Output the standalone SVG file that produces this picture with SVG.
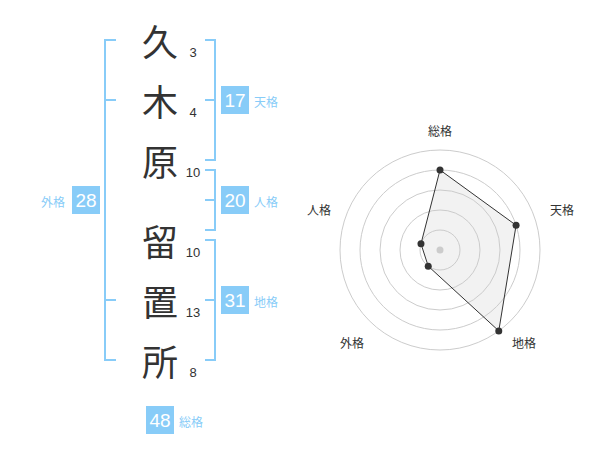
<svg xmlns="http://www.w3.org/2000/svg" width="600" height="470" viewBox="0 0 600 470">
<style>
.ch{font-family:"Noto Sans CJK JP","Noto Sans CJK SC",sans-serif;font-size:36px;fill:#333;text-anchor:middle;dominant-baseline:central}
.num{font-family:"Liberation Sans",Arial,sans-serif;font-size:13px;fill:#333;text-anchor:middle}
.br{fill:none;stroke:#88ccf8;stroke-width:2}
.box{fill:#88ccf8}
.bt{font-family:"Liberation Sans",Arial,sans-serif;font-size:19px;fill:#fff;text-anchor:middle;dominant-baseline:central}
.lb{font-family:"Noto Sans CJK JP","Noto Sans CJK SC",sans-serif;font-size:12px;fill:#88ccf8;dominant-baseline:central}
.rl{font-family:"Noto Sans CJK JP","Noto Sans CJK SC",sans-serif;font-size:12px;fill:#333;text-anchor:middle;dominant-baseline:central}
.ring{fill:none;stroke:#ccc;stroke-width:1}
</style>
<rect width="600" height="470" fill="#fff"/>
<g id="chars">
<text class="ch" x="160" y="40">久</text>
<text class="ch" x="160" y="100">木</text>
<text class="ch" x="160" y="160">原</text>
<text class="ch" x="160" y="240">留</text>
<text class="ch" x="160" y="300">置</text>
<text class="ch" x="160" y="360">所</text>
</g>
<g id="strokes">
<text class="num" x="193" y="57">3</text>
<text class="num" x="193" y="117">4</text>
<text class="num" x="193" y="177">10</text>
<text class="num" x="193" y="257">10</text>
<text class="num" x="193" y="317">13</text>
<text class="num" x="193" y="377">8</text>
</g>
<g id="connectors">
<path class="br" d="M205 40H215V160H205M205 100H215"/>
<path class="br" d="M205 170H215V230H205M205 200H215"/>
<path class="br" d="M205 240H215V360H205M205 300H215"/>
<path class="br" d="M116 40H105V360H116M105 100H116M105 300H116"/>
</g>
<g id="tenkaku">
<rect class="box" x="221" y="86" width="28" height="28"/>
<text class="bt" x="235" y="100">17</text>
<text class="lb" x="254" y="101">天格</text>
</g>
<g id="jinkaku">
<rect class="box" x="221" y="186" width="28" height="28"/>
<text class="bt" x="235" y="200">20</text>
<text class="lb" x="254" y="201">人格</text>
</g>
<g id="chikaku">
<rect class="box" x="221" y="286" width="28" height="28"/>
<text class="bt" x="235" y="300">31</text>
<text class="lb" x="254" y="301">地格</text>
</g>
<g id="gaikaku">
<rect class="box" x="72" y="186" width="28" height="28"/>
<text class="bt" x="86" y="200">28</text>
<text class="lb" x="41" y="201">外格</text>
</g>
<g id="soukaku">
<rect class="box" x="146" y="406" width="28" height="28"/>
<text class="bt" x="160" y="420">48</text>
<text class="lb" x="179" y="421">総格</text>
</g>
<g id="radar">
<circle class="ring" cx="440" cy="250" r="20"/>
<circle class="ring" cx="440" cy="250" r="40"/>
<circle class="ring" cx="440" cy="250" r="60"/>
<circle class="ring" cx="440" cy="250" r="80"/>
<circle class="ring" cx="440" cy="250" r="100"/>
<polygon points="440,170 516.08,225.28 498.78,330.9 428.24,266.18 420.98,243.82" fill="#ccc" fill-opacity="0.25" stroke="#333" stroke-width="1"/>
<circle cx="440" cy="250" r="3.5" fill="#ccc"/>
<g fill="#333">
<circle cx="440" cy="170" r="3.5"/>
<circle cx="516.08" cy="225.28" r="3.5"/>
<circle cx="498.78" cy="330.9" r="3.5"/>
<circle cx="428.24" cy="266.18" r="3.5"/>
<circle cx="420.98" cy="243.82" r="3.5"/>
</g>
<text class="rl" x="440" y="130">総格</text>
<text class="rl" x="562" y="209">天格</text>
<text class="rl" x="524" y="342">地格</text>
<text class="rl" x="352" y="342">外格</text>
<text class="rl" x="319" y="209">人格</text>
</g>
</svg>
